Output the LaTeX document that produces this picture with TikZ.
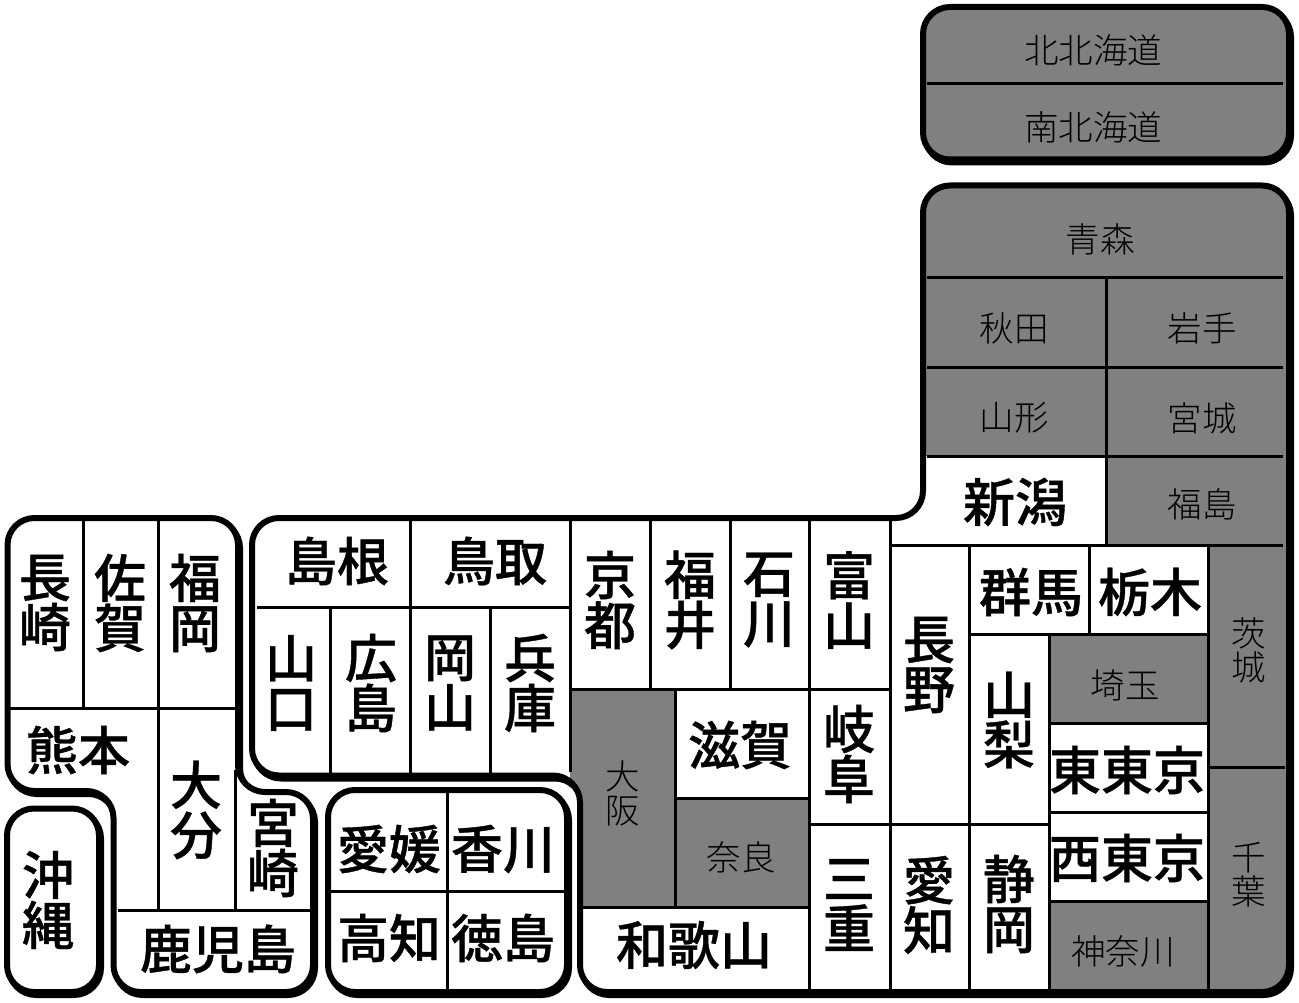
\documentclass[tikz,border=0pt]{standalone}
\usepackage{fontspec}
\newfontfamily\jpbold[FakeBold=0.7]{Noto Sans CJK JP Medium}
\newfontfamily\jplight{Noto Sans CJK JP Light}
\definecolor{prefgray}{HTML}{808080}
\tikzset{
  gridline/.style={black,line width=3pt},
  outline/.style={black,line width=6pt,rounded corners=27pt},
  rimshadow/.style={outline,shift={(2,3)}},
  grayfill/.style={prefgray,rounded corners=27pt},
  whitefill/.style={white,rounded corners=27pt},
  big/.style={inner sep=0pt,align=center,font=\jpbold\fontsize{52}{50}\selectfont},
  small/.style={inner sep=0pt,align=center,text=black,font=\jplight\fontsize{34.5}{34}\selectfont},
}
\def\pHokkaido{(923,7) -- (1289,7) -- (1289,159.5) -- (923,159.5) -- cycle}
\def\pHonshu{(923,185.5) -- (1289,185.5) -- (1289,992) -- (580,992) -- (580,775.5) -- (252,775.5) -- (252,518) -- (923,518) -- cycle}
\def\pKyushu{(7.5,518) -- (238,518) -- (238,792) -- (313,792) -- (313,992) -- (113.5,992) -- (113.5,791) -- (7.5,791) -- cycle}
\def\pOkinawa{(7,808.5) -- (99,808.5) -- (99,992) -- (7,992) -- cycle}
\def\pShikoku{(328,790) -- (567,790) -- (567,992) -- (328,992) -- cycle}
\begin{document}
\begin{tikzpicture}[x=1pt,y=-1pt]
\useasboundingbox (0,0) rectangle (1299,1003);
\fill[white] (0,0) rectangle (1299,1003);
% heavier lower right rim: offset copies, later covered on the inside
\foreach \p in {\pHokkaido,\pHonshu,\pKyushu,\pOkinawa,\pShikoku}{
  \draw[rimshadow] \p;
}
\fill[grayfill] \pHokkaido;
\fill[whitefill] \pHonshu;
\begin{scope}
\clip[rounded corners=27pt] \pHonshu;
\fill[prefgray] (920,180) rectangle (1295,456);
\fill[prefgray] (1106,456) rectangle (1295,545);
\fill[prefgray] (1208.5,545) rectangle (1295,1000);
\fill[prefgray] (1049,634) rectangle (1209,723);
\fill[prefgray] (1049,901) rectangle (1209,1000);
\fill[prefgray] (570,689) rectangle (675,907);
\fill[prefgray] (675,798) rectangle (809,907);
\end{scope}
\fill[whitefill] \pKyushu;
\fill[whitefill] \pOkinawa;
\fill[whitefill] \pShikoku;
% grid lines
\draw[gridline] (927,83.5) -- (1283,83.5);
\draw[gridline] (927,278) -- (1283,278) (927,367) -- (1283,367) (927,456) -- (1283,456) (890,545) -- (1283,545);
\draw[gridline] (1106,278) -- (1106,545);
\draw[gridline] (257,607) -- (570,607) (410,520) -- (410,773) (330,607) -- (330,773) (490,607) -- (490,773);
\draw[gridline] (570,520) -- (570,772) (650,520) -- (650,689) (730,520) -- (730,689);
\draw[gridline] (809,520) -- (809,990) (570,689) -- (890,689) (675,689) -- (675,907);
\draw[gridline] (675,798) -- (809,798) (583,907) -- (809,907) (809,824) -- (1049,824);
\draw[gridline] (890,520) -- (890,990) (969,545) -- (969,990) (1049,634) -- (1049,990);
\draw[gridline] (969,634) -- (1209,634) (1089,545) -- (1089,634) (1208.5,545) -- (1208.5,990);
\draw[gridline] (1049,723) -- (1209,723) (1049,812) -- (1209,812) (1049,901) -- (1209,901) (1209,767) -- (1285,767);
\draw[gridline] (10,708) -- (235,708) (83,520) -- (83,708) (158,520) -- (158,910) (235,770) -- (235,910) (118,910) -- (311,910);
\draw[gridline] (447,793) -- (447,991) (330,891) -- (564,891);
% outlines
\foreach \p in {\pHokkaido,\pHonshu,\pKyushu,\pOkinawa,\pShikoku}{
  \draw[outline] \p;
}
% labels
\node[small] (kitahok) at (1093,50) {北北海道};
\node[small] (minahok) at (1093,127) {南北海道};
\node[small] (aomori) at (1100,239) {青森};
\node[small] (akita) at (1014,328) {秋田};
\node[small] (iwate) at (1202,328) {岩手};
\node[small] (yamagata) at (1014,418) {山形};
\node[small] (miyagi) at (1202,418) {宮城};
\node[small] (fukushima) at (1202,504) {福島};
\node[big] (niigata) at (1015,502) {新潟};
\node[big] (gunma) at (1031,592) {群馬};
\node[big] (tochigi) at (1150,592) {栃木};
\node[big] (nagano) at (929,665) {長\\野};
\node[big] (yamanashi) at (1009,720) {山\\梨};
\node[small] (saitama) at (1125,685) {埼玉};
\node[big] (higashitokyo) at (1127,770) {東東京};
\node[big] (nishitokyo) at (1127,858) {西東京};
\node[small] (kanagawa) at (1123,951) {神奈川};
\node[small] (ibaraki) at (1249,650) {茨\\城};
\node[small] (chiba) at (1249,875) {千\\葉};
\node[big] (shizuoka) at (1009,904) {静\\岡};
\node[big] (aichi) at (929,905) {愛\\知};
\node[big] (mie) at (849,905) {三\\重};
\node[big] (gifu) at (849,754) {岐\\阜};
\node[big] (toyama) at (849,600) {富\\山};
\node[big] (ishikawa) at (769,600) {石\\川};
\node[big] (fukui) at (690,600) {福\\井};
\node[big] (kyoto) at (610,600) {京\\都};
\node[big] (shiga) at (740,745) {滋賀};
\node[small] (nara) at (741,857) {奈良};
\node[small] (osaka) at (623,793) {大\\阪};
\node[big] (wakayama) at (694,945) {和歌山};
\node[big] (shimane) at (337,561) {島根};
\node[big] (tottori) at (495,561) {鳥取};
\node[big] (yamaguchi) at (291,683) {山\\口};
\node[big] (hiroshima) at (371,683) {広\\島};
\node[big] (okayama) at (450,683) {岡\\山};
\node[big] (hyogo) at (530,683) {兵\\庫};
\node[big] (ehime) at (389,849) {愛媛};
\node[big] (kagawa) at (503,849) {香川};
\node[big] (kochi) at (389,938) {高知};
\node[big] (tokushima) at (503,938) {徳島};
\node[big] (nagasaki) at (45,603) {長\\崎};
\node[big] (saga) at (120,603) {佐\\賀};
\node[big] (fukuoka) at (195,603) {福\\岡};
\node[big] (kumamoto) at (78,750) {熊本};
\node[big] (oita) at (196,810) {大\\分};
\node[big] (miyazaki) at (273,848) {宮\\崎};
\node[big] (okinawa) at (48,900) {沖\\縄};
\node[big] (kagoshima) at (218,949) {鹿児島};
\end{tikzpicture}
\end{document}
